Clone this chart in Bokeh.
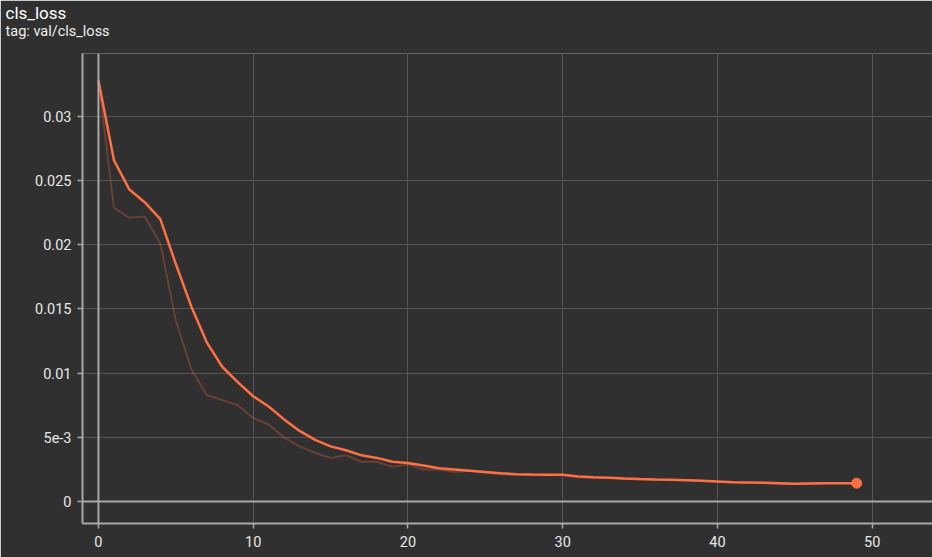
from bokeh.plotting import figure
from bokeh.models import Range1d, FixedTicker, Span, Title
from bokeh.embed import file_html
from bokeh.resources import INLINE

steps = list(range(50))
smoothed = [0.0328, 0.0266, 0.0243, 0.0233, 0.0220, 0.0185, 0.0152, 0.0124, 0.0105, 0.0093,
            0.0082, 0.0074, 0.0064, 0.0055, 0.0048, 0.0043, 0.0040, 0.0036, 0.0034, 0.0031,
            0.0030, 0.0028, 0.0026, 0.0025, 0.0024, 0.0023, 0.0022, 0.00213, 0.0021, 0.00208,
            0.00208, 0.00196, 0.0019, 0.00186, 0.0018, 0.00175, 0.00172, 0.0017, 0.00166, 0.00162,
            0.00157, 0.0015, 0.00148, 0.00146, 0.00143, 0.00138, 0.0014, 0.00142, 0.00143, 0.00143]
raw = [0.0328, 0.0229, 0.0221, 0.0222, 0.0201, 0.0141, 0.0103, 0.0083, 0.0079, 0.0075,
       0.0065, 0.0060, 0.0050, 0.0043, 0.0038, 0.0034, 0.0036, 0.0031, 0.0031, 0.0027,
       0.0029, 0.0025, 0.0025, 0.0023, 0.0024, 0.00225, 0.00213, 0.0021, 0.00205, 0.00205,
       0.00208, 0.0019, 0.00187, 0.00185, 0.00178, 0.00172, 0.0017, 0.00168, 0.00165, 0.0016,
       0.00153, 0.0015, 0.00147, 0.00145, 0.0014, 0.00137, 0.0014, 0.00142, 0.00143, 0.00143]
x_ticks = [0, 10, 20, 30, 40, 50]
y_ticks = [0, 0.005, 0.01, 0.015, 0.02, 0.025, 0.03]
y_tick_labels = {0: "0", 0.005: "5e-3", 0.01: "0.01", 0.015: "0.015", 0.02: "0.02",
                 0.025: "0.025", 0.03: "0.03"}
title_text = "cls_loss"
subtitle_text = "tag: val/cls_loss"

BG = "#303030"
ORANGE = "#ff7043"
FONT = "Roboto"

p = figure(width=932, height=557, output_backend="svg", toolbar_location=None,
           x_range=Range1d(-1.03, 53.9), y_range=Range1d(-0.00171, 0.0349),
           min_border_left=82, min_border_right=0, min_border_top=53, min_border_bottom=34)
p.background_fill_color = BG
p.border_fill_color = BG
p.outline_line_color = None

p.add_layout(Title(text=subtitle_text, text_font=FONT, text_font_size="14.5px",
                   text_color="#eeeeee", text_font_style="normal", offset=-77, standoff=27), "above")
p.add_layout(Title(text=title_text, text_font=FONT, text_font_size="17px",
                   text_color="#ffffff", text_font_style="normal", offset=-77, standoff=-30), "above")

for ax in (p.xaxis[0], p.yaxis[0]):
    ax.axis_line_color = "#a8a8a8"
    ax.axis_line_width = 2
    ax.major_tick_line_color = "#a8a8a8"
    ax.major_tick_line_width = 1.5
    ax.major_tick_out = 5
    ax.major_tick_in = 0
    ax.minor_tick_line_color = None
    ax.major_label_text_font = FONT
    ax.major_label_text_font_size = "14.5px"
    ax.major_label_text_color = "#e8e8e8"

p.xaxis.ticker = FixedTicker(ticks=x_ticks)
p.yaxis.ticker = FixedTicker(ticks=y_ticks)
p.yaxis.major_label_overrides = y_tick_labels
p.xaxis.major_label_standoff = 7
p.yaxis.major_label_standoff = 6

p.xgrid.ticker = FixedTicker(ticks=x_ticks[1:])
p.ygrid.ticker = FixedTicker(ticks=y_ticks[1:])
p.grid.grid_line_color = "#555555"
p.grid.grid_line_width = 1

p.add_layout(Span(location=0, dimension="height", line_color="#a8a8a8", line_width=2))
p.add_layout(Span(location=0, dimension="width", line_color="#a8a8a8", line_width=2))

p.line(steps, raw, line_color=ORANGE, line_alpha=0.27, line_width=2)
p.line(steps, smoothed, line_color=ORANGE, line_width=2.5)
p.scatter([steps[-1]], [smoothed[-1]], size=10, color=ORANGE)

open("out.html", "w").write(file_html(p, INLINE))
